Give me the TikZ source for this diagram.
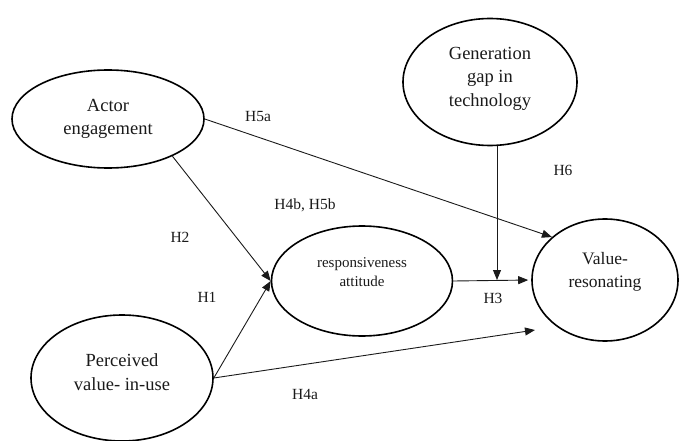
\documentclass[tikz,border=0pt]{standalone}
\usepackage{fontspec}
\setmainfont{Liberation Serif}
\usetikzlibrary{arrows.meta,shapes.geometric}
\definecolor{inkgray}{HTML}{1A1A1A}

\begin{document}
\begin{tikzpicture}[x=1pt,y=-1pt,
  construct/.style={draw,ellipse,line width=1.6pt,inner sep=0pt,align=center,
    text=inkgray,font=\fontsize{18.5}{23.5}\selectfont},
  link/.style={-{Triangle[length=10pt,width=8pt]},line width=0.9pt,draw=inkgray},
  hyp/.style={text=inkgray,font=\fontsize{15.5}{18}\selectfont}]
  \useasboundingbox (0,0) rectangle (680,441);

  % constructs
  \node[construct,minimum width=192pt,minimum height=98pt] (actor) at (108,119) {Actor\\engagement};
  \node[construct,minimum width=182pt,minimum height=126pt,text depth=12pt] (perc) at (122,378) {Perceived\\value- in-use};
  \node[construct,minimum width=181pt,minimum height=110pt,text depth=18pt,
    font=\fontsize{15}{19}\selectfont] (resp) at (362,281) {responsiveness\\attitude};
  \node[construct,minimum width=174pt,minimum height=127pt,text depth=11pt] (gen) at (490,82) {Generation\\gap in\\technology};
  \node[construct,minimum width=146pt,minimum height=122pt,text depth=20pt,
    font=\fontsize{17.5}{23}\selectfont] (value) at (605,280) {Value-\\resonating};

  % paths
  \coordinate (h3mid) at (497,280);
  \coordinate (h4aend) at (535,330);
  \draw[link] (actor.-30) -- (resp.west);
  \draw[link] (perc.east) -- (resp.west);
  \draw[link] (actor.east) -- (value.141);
  \draw[link,shorten >=3pt] (resp.east) -- (value.west);
  \draw[link] (gen.south -| h3mid) -- (h3mid);
  \draw[link] (perc.east) -- (h4aend);

  % hypotheses
  \node[hyp] (h5a) at (258,117) {H5a};
  \node[hyp] (h6) at (563,170) {H6};
  \node[hyp] (h4b) at (305,205) {H4b, H5b};
  \node[hyp] (h2) at (180,237) {H2};
  \node[hyp] (h1) at (207,297) {H1};
  \node[hyp] (h3) at (493,298) {H3};
  \node[hyp] (h4a) at (305,394) {H4a};
\end{tikzpicture}
\end{document}
